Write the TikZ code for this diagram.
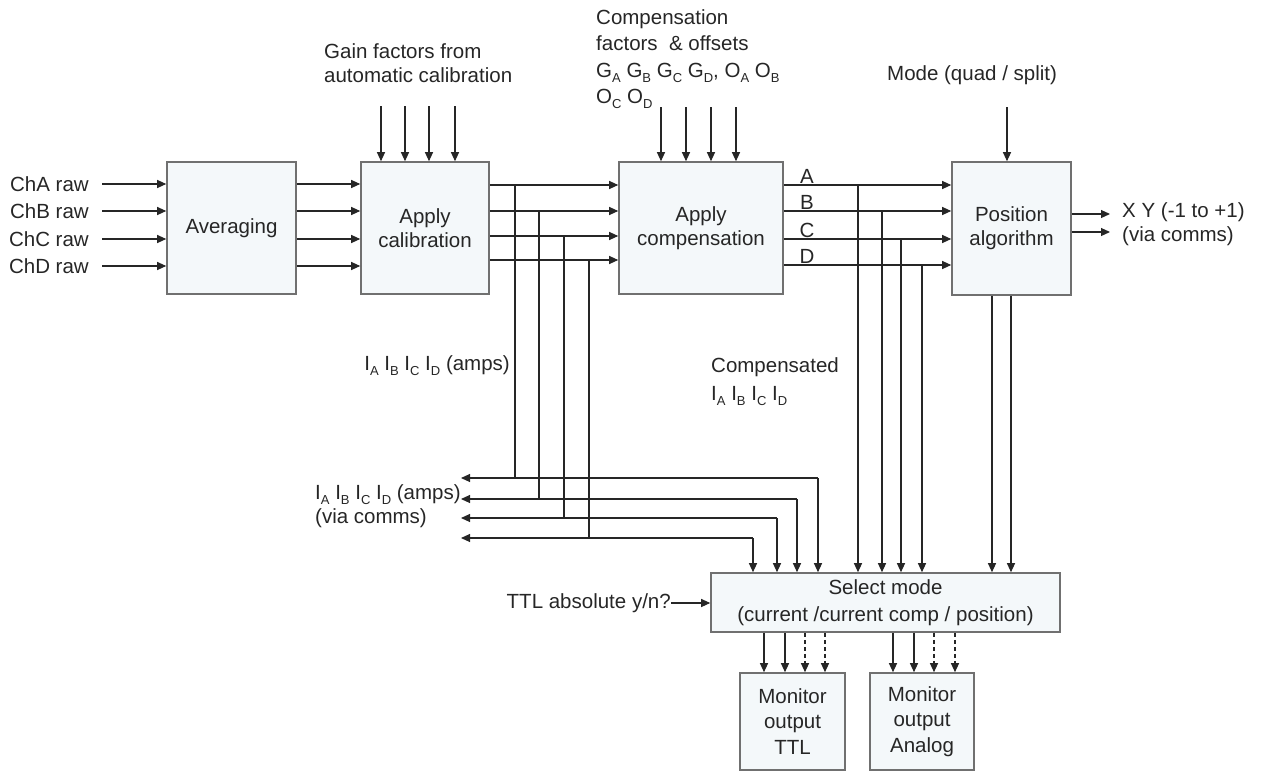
\documentclass[tikz,border=0pt]{standalone}
\usepackage{fontspec}
\setmainfont{Liberation Sans}
\usetikzlibrary{arrows.meta,positioning}
\definecolor{boxfill}{HTML}{F4F8FA}
\definecolor{boxline}{HTML}{707070}
\definecolor{inkgray}{HTML}{262626}
\tikzset{
  block/.style={draw=boxline, line width=1.6pt, fill=boxfill, align=center, inner sep=0pt, text=inkgray},
  sig/.style={draw=inkgray, line width=1.1pt, -{Triangle[length=9pt,width=8pt]}},
  wire/.style={draw=inkgray, line width=1.1pt},
  lbl/.style={inner sep=0pt, text=inkgray, align=left},
  dashsig/.style={sig, dash pattern=on 4pt off 3pt},
}
\newcommand{\lowsub}[1]{\raisebox{-5pt}{\fontsize{13}{13}\selectfont #1}}
\newcommand{\ilist}{I\lowsub{A} I\lowsub{B} I\lowsub{C} I\lowsub{D}}

\begin{document}
\begin{tikzpicture}[x=1pt, y=-1pt, font=\fontsize{20.5}{24}\selectfont]
    \useasboundingbox (0,0) rectangle (1264,772);

    % Processing blocks
    \node[block, minimum width=129pt, minimum height=132pt] (avg) at (231.5,228) {Averaging};
    \node[block, minimum width=128pt, minimum height=132pt] (cal) at (425,228) {Apply\\calibration};
    \node[block, minimum width=164pt, minimum height=132pt] (comp) at (701,228) {Apply\\compensation};
    \node[block, minimum width=119pt, minimum height=133pt] (pos) at (1011.5,228.5) {Position\\algorithm};
    \node[block, minimum width=349pt, minimum height=59pt, font=\fontsize{20.5}{27}\selectfont] (sel) at (885.5,602.5)
        {Select mode\\(current /current comp / position)};
    \node[block, minimum width=105pt, minimum height=97pt, font=\fontsize{20.5}{25.5}\selectfont] (ttl) at (792.5,721.5) {Monitor\\output\\TTL};
    \node[block, minimum width=104pt, minimum height=97pt, font=\fontsize{20.5}{25.5}\selectfont] (ana) at (922,721.5) {Monitor\\output\\Analog};

    % Labels
    \node[lbl, anchor=west] (gain) at (324,63.5) {Gain factors from\\automatic calibration};
    \node[lbl, anchor=west, font=\fontsize{20.5}{26.5}\selectfont] (cfac) at (596,59)
        {Compensation\\factors~~\& offsets\\G\lowsub{A} G\lowsub{B} G\lowsub{C} G\lowsub{D}, O\lowsub{A} O\lowsub{B}\\O\lowsub{C} O\lowsub{D}};
    \node[lbl, anchor=west] (mode) at (887,75) {Mode (quad / split)};
    \node[lbl, anchor=west] (xy) at (1122,224) {X Y (-1 to +1)\\(via comms)};
    \node[lbl, anchor=east] (iamps) at (510,366) {\ilist{} (amps)};
    \node[lbl, anchor=west, font=\fontsize{20.5}{28}\selectfont] (icomp) at (711,382) {Compensated\\\ilist};
    \node[lbl, anchor=west] (icomms) at (315,506) {\ilist{} (amps)\\(via comms)};
    \node[lbl, anchor=east] (ttlabs) at (671,603) {TTL absolute y/n?};

    % Raw channels into averaging
    \foreach \ch/\y in {A/184, B/211, C/239, D/266} {
        \node[lbl, anchor=east] (raw\ch) at (89,\y) {Ch\ch\ raw};
        \draw[sig] ([xshift=13pt]raw\ch.east) -- (avg.west |- raw\ch.east);
        \draw[sig] (avg.east |- raw\ch.east) -- (cal.west |- raw\ch.east);
    }

    % Factors from above
    \foreach \x in {381,405,429,455}
        \draw[sig] (\x,106) -- (cal.north -| \x,0);
    \foreach \x in {661,686,711,736}
        \draw[sig] (\x,107) -- (comp.north -| \x,0);
    \draw[sig] (1007,107) -- (pos.north -| 1007,0);

    % Calibrated currents, tapped to comms and select
    \foreach \y/\tx/\hy/\dx [count=\i] in {185/515/478/818, 211/539/499/797, 236/564/518/777, 260/589/538/753} {
        \draw[sig] (cal.east |- 0,\y) -- (comp.west |- 0,\y);
        \coordinate (tap\i) at (\tx,\y);
        \coordinate (bus\i) at (\dx,\hy);
        \coordinate (comms\i) at (461,\hy);
        \draw[wire] (tap\i) -- (tap\i |- bus\i);
        \draw[sig] (bus\i) -- (comms\i);
        \draw[sig] (bus\i) -- (sel.north -| bus\i);
    }

    % Compensated currents
    \foreach \y/\tx/\ch in {185/858/A, 211/882/B, 239/901/C, 265/922/D} {
        \draw[sig] (comp.east |- 0,\y) -- (pos.west |- 0,\y);
        \node[lbl] (let\ch) at (807,\y-9) {\ch};
        \draw[sig] (\tx,\y) -- (sel.north -| \tx,0);
    }

    % Position outputs
    \foreach \x in {992,1011}
        \draw[sig] (pos.south -| \x,0) -- (sel.north -| \x,0);
    \draw[sig] (pos.east |- 0,214) -- (1110,214);
    \draw[sig] (pos.east |- 0,232) -- (1110,232);

    % Select mode to monitor outputs
    \draw[sig] (ttlabs.east) -- (sel.west |- ttlabs.east);
    \foreach \x in {764,785}
        \draw[sig] (sel.south -| \x,0) -- (ttl.north -| \x,0);
    \foreach \x in {805,825}
        \draw[dashsig] (sel.south -| \x,0) -- (ttl.north -| \x,0);
    \foreach \x in {893,914}
        \draw[sig] (sel.south -| \x,0) -- (ana.north -| \x,0);
    \foreach \x in {934,955}
        \draw[dashsig] (sel.south -| \x,0) -- (ana.north -| \x,0);
\end{tikzpicture}
\end{document}
